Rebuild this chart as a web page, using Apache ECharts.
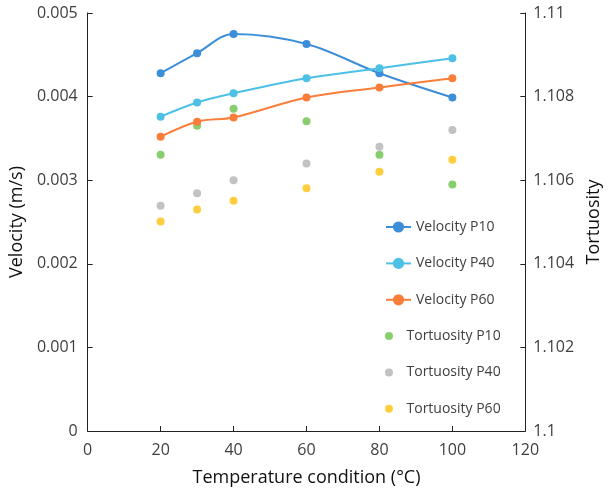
<!DOCTYPE html>
<html><head><meta charset="utf-8">
<script src="https://cdn.jsdelivr.net/npm/echarts@6/dist/echarts.min.js"></script>
<style>html,body{margin:0;padding:0;background:#fff}#c{width:611px;height:492px}</style>
</head><body><div id="c"></div>
<script>
const temps = [20, 30, 40, 60, 80, 100];
const velP10 = [0.00428, 0.00452, 0.00475, 0.00463, 0.00428, 0.00399];
const velP40 = [0.00376, 0.00393, 0.00404, 0.00422, 0.00434, 0.00446];
const velP60 = [0.00352, 0.00370, 0.00375, 0.00399, 0.00411, 0.00422];
const tortP10 = [1.10661, 1.10730, 1.10771, 1.10741, 1.10661, 1.10590];
const tortP40 = [1.10539, 1.10569, 1.10600, 1.10640, 1.10680, 1.10720];
const tortP60 = [1.10501, 1.10530, 1.10551, 1.10581, 1.10620, 1.10649];
const lineNames = ['Velocity P10', 'Velocity P40', 'Velocity P60'];
const dotNames = ['Tortuosity P10', 'Tortuosity P40', 'Tortuosity P60'];

const pair = (xs, ys) => xs.map((x, i) => [x, ys[i]]);
const FONT = '"Open Sans", "Noto Sans", sans-serif';
const fmt = v => String(+(+v).toFixed(4));
const chart = echarts.init(document.getElementById('c'));
const lineS = (name, data, color) => ({
  name, type: 'line', yAxisIndex: 0, data: pair(temps, data), smooth: 0.35,
  symbol: 'circle', symbolSize: 8, lineStyle: {color, width: 2}, itemStyle: {color}
});
const dotS = (name, data, color) => ({
  name, type: 'scatter', yAxisIndex: 1, data: pair(temps, data),
  symbol: 'circle', symbolSize: 8, itemStyle: {color}
});
const legendText = {fontFamily: FONT, fontSize: 14, color: '#404040'};
const axisCommon = {
  axisLine: {show: true, lineStyle: {color: '#222', width: 1}},
  axisTick: {show: true, inside: true, length: 5, lineStyle: {color: '#222'}},
  splitLine: {show: false}
};
chart.setOption({
  animation: false,
  textStyle: {fontFamily: FONT},
  grid: {left: 82, right: 76, top: 13, bottom: 55},
  legend: [{
    orient: 'vertical', left: 380, top: 215, itemGap: 22.4, itemWidth: 25, itemHeight: 14,
    textStyle: legendText, data: lineNames
  }, {
    orient: 'vertical', left: 380, top: 324, itemGap: 22.4, itemWidth: 25, itemHeight: 8,
    textStyle: legendText, data: dotNames
  }],
  xAxis: Object.assign({
    type: 'value', min: 0, max: 120, interval: 20,
    name: 'Temperature condition (°C)', nameLocation: 'middle', nameGap: 38,
    nameTextStyle: {fontFamily: FONT, fontSize: 18, color: '#111'},
    axisLabel: {fontFamily: FONT, fontSize: 16, color: '#404040', margin: 11}
  }, axisCommon),
  yAxis: [Object.assign({
    type: 'value', min: 0, max: 0.005, interval: 0.001,
    name: 'Velocity (m/s)', nameLocation: 'middle', nameGap: 60, nameRotate: 90,
    nameTextStyle: {fontFamily: FONT, fontSize: 18, color: '#111'},
    axisLabel: {fontFamily: FONT, fontSize: 16, color: '#404040', margin: 10, formatter: fmt}
  }, axisCommon), Object.assign({
    type: 'value', min: 1.1, max: 1.11, interval: 0.002,
    name: 'Tortuosity', nameLocation: 'middle', nameGap: 53, nameRotate: 90,
    nameTextStyle: {fontFamily: FONT, fontSize: 18, color: '#111'},
    axisLabel: {fontFamily: FONT, fontSize: 16, color: '#404040', margin: 8, formatter: fmt}
  }, axisCommon)],
  series: [
    lineS(lineNames[0], velP10, '#3d8ed8'),
    lineS(lineNames[1], velP40, '#4cc0e6'),
    lineS(lineNames[2], velP60, '#fa7d3a'),
    dotS(dotNames[0], tortP10, '#6cc24a'),
    dotS(dotNames[1], tortP40, '#b3b3b3'),
    dotS(dotNames[2], tortP60, '#ffc20e')
  ]
});
</script></body></html>
